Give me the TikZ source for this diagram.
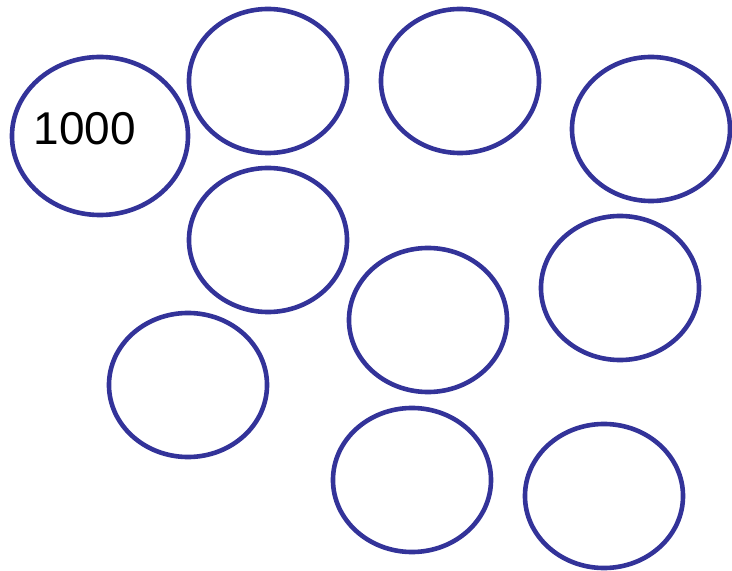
\documentclass[tikz,border=0pt]{standalone}
\usepackage{fontspec}
\setmainfont{Liberation Sans}
\usepackage{xcolor}
\usetikzlibrary{shapes.geometric}
\definecolor{ringblue}{RGB}{51,51,153}

\begin{document}
\begin{tikzpicture}[
  x=0.025cm, y=-0.025cm,
  ring/.style={ellipse, draw=ringblue, line width=0.115cm, inner sep=0pt,
               minimum width=3.95cm, minimum height=3.6cm},
  bigring/.style={ring, minimum width=4.4cm, minimum height=3.95cm},
  numlbl/.style={font=\fontsize{32.7}{38}\selectfont, inner sep=0pt}
]
  \useasboundingbox (0,0) rectangle (732,571);
  \node[bigring] (r1) at (100,136) {};
  \node[ring] (r2) at (268,81) {};
  \node[ring] (r3) at (460,81) {};
  \node[ring] (r4) at (651,129) {};
  \node[ring] (r5) at (268,240) {};
  \node[ring] (r6) at (428,320) {};
  \node[ring] (r7) at (620,288) {};
  \node[ring] (r8) at (188,385) {};
  \node[ring] (r9) at (412,480) {};
  \node[ring] (r10) at (604,496) {};
  \node[numlbl] (val) at (85,129) {1000};
\end{tikzpicture}
\end{document}
